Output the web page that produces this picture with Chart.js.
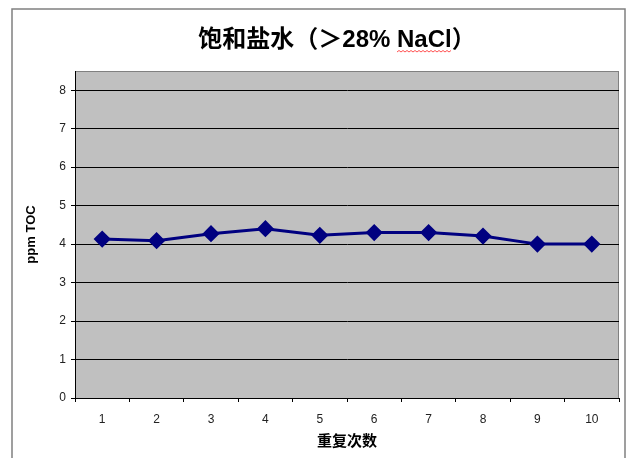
<!DOCTYPE html>
<html>
<head>
<meta charset="utf-8">
<script src="https://cdn.jsdelivr.net/npm/chart.js@4"></script>
<style>
  html, body { margin: 0; padding: 0; background: #fff; }
  #wrap { width: 626px; height: 458px; }
</style>
</head>
<body>
<div id="wrap"><canvas id="tocChart" width="626" height="458"></canvas></div>
<script>
// 重复次数 / ppm TOC
const runs = ['1', '2', '3', '4', '5', '6', '7', '8', '9', '10'];
const tocValues = [4.13, 4.09, 4.27, 4.40, 4.23, 4.30, 4.30, 4.21, 4.00, 4.00];
const yTicks = [0, 1, 2, 3, 4, 5, 6, 7, 8];

const FONT = '"Liberation Sans", Arial, "Noto Sans CJK SC", sans-serif';
const titleText = '饱和盐水（＞28% NaCl）';

// рамка, серый фон области построения и заголовок
const framePlugin = {
  id: 'frame',
  beforeDraw(chart) {
    const { ctx, chartArea: a } = chart;
    ctx.save();
    ctx.fillStyle = '#c0c0c0';
    ctx.fillRect(a.left, a.top, a.right - a.left, a.bottom - a.top);
    ctx.strokeStyle = '#808080';
    ctx.lineWidth = 1;
    ctx.strokeRect(a.left + 0.5, a.top + 0.5, a.right - a.left - 1, a.bottom - a.top);
    ctx.lineWidth = 1.5;
    ctx.beginPath();
    ctx.moveTo(12, 460);
    ctx.lineTo(12, 9);
    ctx.lineTo(625, 9);
    ctx.lineTo(625, 460);
    ctx.stroke();
    ctx.restore();
  },
  afterDraw(chart) {
    const { ctx } = chart;
    ctx.save();
    ctx.font = 'bold 24px ' + FONT;
    ctx.fillStyle = '#000';
    ctx.textAlign = 'center';
    ctx.textBaseline = 'alphabetic';
    const cx = 337;
    ctx.fillText(titleText, cx, 47);
    // красная волнистая линия под NaCl
    const full = ctx.measureText(titleText).width;
    const pre = ctx.measureText('饱和盐水（＞28% ').width;
    const w = ctx.measureText('NaCl').width;
    const x = cx - full / 2 + pre;
    const y = 52;
    ctx.strokeStyle = '#ff5050';
    ctx.lineWidth = 1;
    ctx.beginPath();
    ctx.moveTo(x, y);
    let up = true;
    for (let xx = x + 2; xx <= x + w; xx += 2) {
      ctx.lineTo(xx, up ? y - 1.5 : y);
      up = !up;
    }
    ctx.stroke();
    ctx.restore();
  }
};

window.addEventListener('DOMContentLoaded', () => {
  const ctx = document.getElementById('tocChart');
  new Chart(ctx, {
    type: 'line',
    data: {
      labels: runs,
      datasets: [{
        data: tocValues,
        borderColor: '#000080',
        backgroundColor: '#000080',
        borderWidth: 3,
        pointStyle: 'rectRot',
        pointRadius: 6.5,
        pointHoverRadius: 6.5,
        tension: 0
      }]
    },
    options: {
      responsive: false,
      animation: false,
      layout: { autoPadding: false, padding: { left: 12, right: 7, top: 71, bottom: 0 } },
      plugins: {
        legend: { display: false },
        tooltip: { enabled: false },
        title: { display: false }
      },
      scales: {
        x: {
          offset: true,
          grid: { drawOnChartArea: false, offset: true, tickLength: 4, color: '#000' },
          border: { color: '#000', width: 1 },
          ticks: { color: '#222', padding: 10, font: { family: FONT, size: 12 } },
          title: {
            display: true,
            text: '重复次数',
            color: '#000',
            font: { family: FONT, size: 15, weight: 'bold' },
            padding: { top: 0, bottom: 7 }
          },
          afterFit: s => { s.height = 60; }
        },
        y: {
          min: 0,
          max: 8.5,
          afterBuildTicks: s => { s.ticks = yTicks.map(v => ({ value: v })); },
          grid: { color: '#000', tickLength: 4, lineWidth: 1 },
          border: { color: '#000', width: 1 },
          ticks: { color: '#222', padding: 5, font: { family: FONT, size: 12 } },
          title: {
            display: true,
            text: 'ppm TOC',
            color: '#000',
            font: { family: FONT, size: 13, weight: 'bold' },
            padding: { top: 12, bottom: 0 }
          },
          afterFit: s => { s.width = 63; }
        }
      }
    },
    plugins: [framePlugin]
  });
});
</script>
</body>
</html>
